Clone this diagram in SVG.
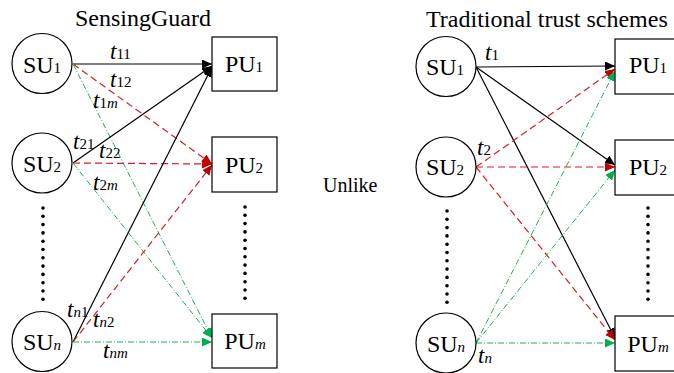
<svg xmlns="http://www.w3.org/2000/svg" width="674" height="373" viewBox="0 0 674 373" font-family="'Liberation Serif','Times New Roman',serif">
<style>
.node circle,.node rect{fill:#fff;stroke:#000;stroke-width:1.2}
.blk{stroke:#000;stroke-width:1.2;fill:none}
.red{stroke:#d42020;stroke-width:1.2;fill:none;stroke-dasharray:7 4}
.grn{stroke:#1fb050;stroke-width:1;fill:none;stroke-dasharray:6 2 1 2}
.dots circle{fill:#000}
</style>
<defs>
<marker id="aB" markerUnits="userSpaceOnUse" markerWidth="12" markerHeight="10" refX="10" refY="4.5" orient="auto"><path d="M0,0 L10,4.5 L0,9 z" fill="#000"/></marker>
<marker id="aR" markerUnits="userSpaceOnUse" markerWidth="12" markerHeight="10" refX="10" refY="4.5" orient="auto"><path d="M0,0 L10,4.5 L0,9 z" fill="#c00000"/></marker>
<marker id="aG" markerUnits="userSpaceOnUse" markerWidth="12" markerHeight="10" refX="10" refY="4.5" orient="auto"><path d="M0,0 L10,4.5 L0,9 z" fill="#00b050"/></marker>
<g id="dotcol"><circle cx="0" cy="0" r="1.8"/><circle cx="0" cy="8.3" r="1.8"/><circle cx="0" cy="16.6" r="1.8"/><circle cx="0" cy="24.9" r="1.8"/><circle cx="0" cy="33.2" r="1.8"/><circle cx="0" cy="41.5" r="1.8"/><circle cx="0" cy="49.8" r="1.8"/><circle cx="0" cy="58.1" r="1.8"/><circle cx="0" cy="66.4" r="1.8"/><circle cx="0" cy="74.7" r="1.8"/><circle cx="0" cy="83" r="1.8"/><circle cx="0" cy="91.3" r="1.8"/></g>
</defs>

<text font-family="'Liberation Serif',serif" font-size="24" x="75" y="26">SensingGuard</text>
<text font-family="'Liberation Serif',serif" font-size="24" x="426" y="27">Traditional trust schemes</text>
<text font-family="'Liberation Serif',serif" font-size="20" x="323" y="192">Unlike</text>

<g id="connectors">
<line class="blk" x1="73" y1="64" x2="212" y2="64" marker-end="url(#aB)"/>
<line class="red" x1="73" y1="64" x2="212" y2="164" marker-end="url(#aR)"/>
<line class="grn" x1="73" y1="64" x2="212" y2="338" marker-end="url(#aG)"/>
<line class="blk" x1="73" y1="163" x2="212" y2="66" marker-end="url(#aB)"/>
<line class="red" x1="73" y1="163" x2="212" y2="164" marker-end="url(#aR)"/>
<line class="grn" x1="73" y1="163" x2="212" y2="338" marker-end="url(#aG)"/>
<line class="blk" x1="73" y1="342" x2="212" y2="67" marker-end="url(#aB)"/>
<line class="red" x1="73" y1="342" x2="212" y2="165" marker-end="url(#aR)"/>
<line class="grn" x1="73" y1="342" x2="212" y2="342" marker-end="url(#aG)"/>
<line class="blk" x1="476" y1="67" x2="615" y2="66" marker-end="url(#aB)"/>
<line class="blk" x1="476" y1="67" x2="615" y2="165" marker-end="url(#aB)"/>
<line class="blk" x1="476" y1="67" x2="615" y2="338" marker-end="url(#aB)"/>
<line class="red" x1="476" y1="167" x2="615" y2="69" marker-end="url(#aR)"/>
<line class="red" x1="476" y1="167" x2="615" y2="167" marker-end="url(#aR)"/>
<line class="red" x1="476" y1="167" x2="615" y2="340" marker-end="url(#aR)"/>
<line class="grn" x1="476" y1="343" x2="615" y2="71" marker-end="url(#aG)"/>
<line class="grn" x1="476" y1="343" x2="615" y2="170" marker-end="url(#aG)"/>
<line class="grn" x1="476" y1="343" x2="615" y2="343" marker-end="url(#aG)"/>
</g>

<g id="edge-labels" font-family="'Liberation Serif',serif" font-size="15">
<text x="110" y="59"><tspan font-size="23" font-style="italic">t</tspan>11</text>
<text x="110" y="87"><tspan font-size="23" font-style="italic">t</tspan>12</text>
<text x="93" y="108"><tspan font-size="23" font-style="italic">t</tspan>1<tspan font-style="italic">m</tspan></text>
<text x="73" y="149"><tspan font-size="23" font-style="italic">t</tspan>21</text>
<text x="99" y="158"><tspan font-size="23" font-style="italic">t</tspan>22</text>
<text x="93" y="190"><tspan font-size="23" font-style="italic">t</tspan>2<tspan font-style="italic">m</tspan></text>
<text x="67" y="317"><tspan font-size="23" font-style="italic">t</tspan><tspan font-style="italic">n</tspan>1</text>
<text x="93" y="327"><tspan font-size="23" font-style="italic">t</tspan><tspan font-style="italic">n</tspan>2</text>
<text x="103" y="358"><tspan font-size="23" font-style="italic">t</tspan><tspan font-style="italic">nm</tspan></text>
<text x="485" y="60"><tspan font-size="23" font-style="italic">t</tspan>1</text>
<text x="477" y="155"><tspan font-size="23" font-style="italic">t</tspan>2</text>
<text x="478" y="363"><tspan font-size="23" font-style="italic">t</tspan><tspan font-style="italic">n</tspan></text>
</g>

<g id="node-labels-style" font-family="'Liberation Serif',serif" font-size="24" text-anchor="middle">
<g id="SU1-left" class="node"><circle cx="42" cy="63.5" r="30"/><text x="42" y="72.5">SU<tspan font-size="15">1</tspan></text></g>
<g id="SU2-left" class="node"><circle cx="42" cy="163" r="30"/><text x="42" y="172">SU<tspan font-size="15">2</tspan></text></g>
<g id="SUn-left" class="node"><circle cx="42" cy="341.5" r="30"/><text x="42" y="350">SU<tspan font-size="15" font-style="italic">n</tspan></text></g>
<g id="PU1-left" class="node"><rect x="212" y="37" width="65" height="54"/><text x="244" y="72">PU<tspan font-size="15">1</tspan></text></g>
<g id="PU2-left" class="node"><rect x="212" y="137" width="65" height="55"/><text x="244" y="173">PU<tspan font-size="15">2</tspan></text></g>
<g id="PUm-left" class="node"><rect x="212" y="314" width="65" height="54"/><text x="245" y="349">PU<tspan font-size="15" font-style="italic">m</tspan></text></g>
<g id="SU1-right" class="node"><circle cx="446" cy="66.5" r="30"/><text x="445" y="74.5">SU<tspan font-size="15">1</tspan></text></g>
<g id="SU2-right" class="node"><circle cx="446" cy="167" r="30"/><text x="445" y="175">SU<tspan font-size="15">2</tspan></text></g>
<g id="SUn-right" class="node"><circle cx="446" cy="343" r="30"/><text x="446" y="352">SU<tspan font-size="15" font-style="italic">n</tspan></text></g>
<g id="PU1-right" class="node"><rect x="615" y="39" width="65" height="55"/><text x="648" y="73">PU<tspan font-size="15">1</tspan></text></g>
<g id="PU2-right" class="node"><rect x="615" y="140" width="65" height="55"/><text x="648" y="175">PU<tspan font-size="15">2</tspan></text></g>
<g id="PUm-right" class="node"><rect x="615" y="316" width="65" height="55"/><text x="648" y="352">PU<tspan font-size="15" font-style="italic">m</tspan></text></g>
</g>

<g id="ellipses" class="dots">
<use href="#dotcol" x="43" y="208"/>
<use href="#dotcol" x="245" y="207"/>
<use href="#dotcol" x="447" y="211"/>
<use href="#dotcol" x="648" y="208"/>
</g>
</svg>
